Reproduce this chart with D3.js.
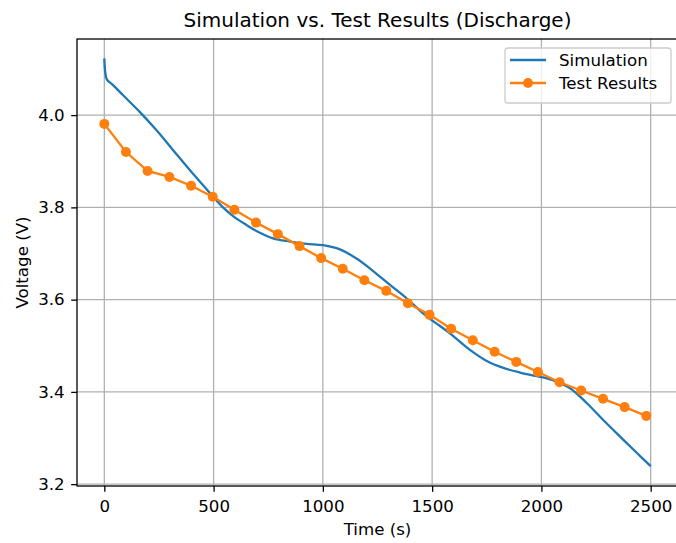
<!DOCTYPE html>
<html>
<head>
<meta charset="utf-8">
<script src="https://cdn.jsdelivr.net/npm/d3@7"></script>
<style>
  body { margin: 0; background: #fff; }
  text { font-family: "DejaVu Sans", sans-serif; fill: #000; }
</style>
</head>
<body>
<div id="chart"></div>
<script>
// simulation curve
var simTime = [0, 5, 12, 40, 86, 162, 239, 315, 391, 467, 496, 543, 595, 650, 696, 772, 849, 925,
  1001, 1078, 1154, 1230, 1307, 1383, 1459, 1500, 1581, 1673, 1750, 1826, 1902, 1979, 2055,
  2131, 2207, 2283, 2360, 2436, 2500];
var simVoltage = [4.123, 4.090, 4.077, 4.065, 4.043, 4.007, 3.967, 3.924, 3.881, 3.840, 3.824,
  3.800, 3.779, 3.762, 3.749, 3.733, 3.726, 3.721, 3.718, 3.709, 3.689, 3.662, 3.632, 3.603,
  3.570, 3.555, 3.527, 3.491, 3.467, 3.452, 3.442, 3.434, 3.425, 3.408, 3.376, 3.339, 3.303,
  3.268, 3.239];

// test results (markers)
var testTime = [0, 99, 198, 298, 397, 496, 595, 694, 794, 893, 992, 1091, 1190, 1290, 1389,
  1488, 1587, 1686, 1786, 1885, 1984, 2083, 2182, 2282, 2381, 2480];
var testVoltage = [3.981, 3.920, 3.879, 3.866, 3.847, 3.823, 3.795, 3.767, 3.742, 3.716, 3.690,
  3.667, 3.642, 3.619, 3.592, 3.567, 3.537, 3.512, 3.487, 3.465, 3.443, 3.421, 3.403, 3.385,
  3.367, 3.348];

var xTicks = [0, 500, 1000, 1500, 2000, 2500];
var yTicks = [3.2, 3.4, 3.6, 3.8, 4.0];

var W = 676, H = 543;
var padL = 77, padT = 39, plotR = 678, plotB = 486;
var fs = "16.67px";

var svg = d3.select("#chart").append("svg")
  .attr("width", W)
  .attr("height", H);

var x = d3.scaleLinear().domain([-125, 2625]).range([padL, plotR]);
var y = d3.scaleLinear().domain([3.196, 4.165]).range([plotB, padT]);

// grid
svg.append("g").selectAll("line").data(xTicks).enter().append("line")
  .attr("x1", function(d) { return x(d); }).attr("x2", function(d) { return x(d); })
  .attr("y1", padT).attr("y2", plotB)
  .attr("stroke", "#b0b0b0").attr("stroke-width", 1.3);
svg.append("g").selectAll("line").data(yTicks).enter().append("line")
  .attr("y1", function(d) { return y(d); }).attr("y2", function(d) { return y(d); })
  .attr("x1", padL).attr("x2", plotR)
  .attr("stroke", "#b0b0b0").attr("stroke-width", 1.3);

// simulation line
var sim = simTime.map(function(t, i) { return [t, simVoltage[i]]; });
svg.append("path")
  .datum(sim)
  .attr("d", d3.line()
    .x(function(d) { return x(d[0]); })
    .y(function(d) { return y(d[1]); })
    .curve(d3.curveCatmullRom.alpha(0.5)))
  .attr("fill", "none")
  .attr("stroke", "#1f77b4")
  .attr("stroke-width", 2.3);

// test results
var test = testTime.map(function(t, i) { return [t, testVoltage[i]]; });
svg.append("path")
  .datum(test)
  .attr("d", d3.line()
    .x(function(d) { return x(d[0]); })
    .y(function(d) { return y(d[1]); }))
  .attr("fill", "none")
  .attr("stroke", "#ff7f0e")
  .attr("stroke-width", 2.3);
svg.append("g").selectAll("circle").data(test).enter().append("circle")
  .attr("cx", function(d) { return x(d[0]); })
  .attr("cy", function(d) { return y(d[1]); })
  .attr("r", 5)
  .attr("fill", "#ff7f0e");

// spines
svg.append("rect")
  .attr("x", padL).attr("y", padT)
  .attr("width", plotR - padL).attr("height", plotB - padT)
  .attr("fill", "none").attr("stroke", "#000").attr("stroke-width", 1.3);

// axes
var xAxis = svg.append("g")
  .attr("transform", "translate(0," + plotB + ")")
  .call(d3.axisBottom(x).tickValues(xTicks).tickSize(5.8).tickPadding(8.4).tickFormat(d3.format("d")));
var yAxis = svg.append("g")
  .attr("transform", "translate(" + padL + ",0)")
  .call(d3.axisLeft(y).tickValues(yTicks).tickSize(5.8).tickPadding(6.5).tickFormat(d3.format(".1f")));
[xAxis, yAxis].forEach(function(a) {
  a.select(".domain").remove();
  a.selectAll("line").attr("stroke", "#000").attr("stroke-width", 1.3);
  a.selectAll("text").attr("font-size", fs).attr("font-family", "DejaVu Sans").attr("fill", "#000");
});

// labels
svg.append("text")
  .attr("x", (padL + plotR) / 2).attr("y", 27)
  .attr("text-anchor", "middle")
  .attr("font-size", "20px")
  .text("Simulation vs. Test Results (Discharge)");
svg.append("text")
  .attr("x", (padL + plotR) / 2).attr("y", 535)
  .attr("text-anchor", "middle")
  .attr("font-size", fs)
  .text("Time (s)");
svg.append("text")
  .attr("transform", "translate(28," + (padT + plotB) / 2 + ") rotate(-90)")
  .attr("text-anchor", "middle")
  .attr("font-size", fs)
  .text("Voltage (V)");

// legend
var lg = svg.append("g");
lg.append("rect")
  .attr("x", 505).attr("y", 48).attr("width", 166).attr("height", 55)
  .attr("rx", 3).attr("fill", "#fff").attr("fill-opacity", 0.8)
  .attr("stroke", "#cccccc").attr("stroke-width", 1.3);
lg.append("line").attr("x1", 510).attr("x2", 546).attr("y1", 60).attr("y2", 60)
  .attr("stroke", "#1f77b4").attr("stroke-width", 2.3);
lg.append("line").attr("x1", 510).attr("x2", 546).attr("y1", 83).attr("y2", 83)
  .attr("stroke", "#ff7f0e").attr("stroke-width", 2.3);
lg.append("circle").attr("cx", 528).attr("cy", 83).attr("r", 5).attr("fill", "#ff7f0e");
lg.append("text").attr("x", 559).attr("y", 66).attr("font-size", fs).text("Simulation");
lg.append("text").attr("x", 559).attr("y", 89).attr("font-size", fs).text("Test Results");
</script>
</body>
</html>
